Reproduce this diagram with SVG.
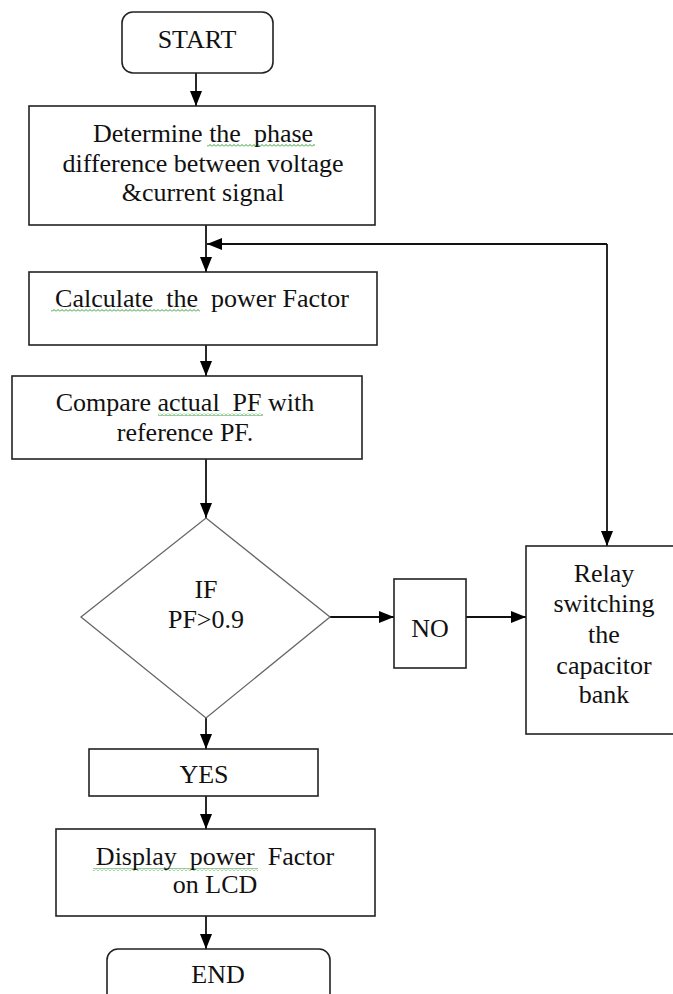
<svg xmlns="http://www.w3.org/2000/svg" width="673" height="994" viewBox="0 0 673 994">
<style>
.box{fill:#fff;stroke:#222;stroke-width:1.6}
.dia{fill:#fff;stroke:#666;stroke-width:1.3}
.t{font-family:"Liberation Serif","Times New Roman",serif;font-size:26px;fill:#111;text-anchor:middle;white-space:pre}
.ln{fill:none;stroke:#111;stroke-width:1.8}
.wv{fill:url(#wavy)}
</style>
<defs>
<marker id="ah" viewBox="0 0 15 12" refX="15" refY="6" markerWidth="15" markerHeight="12" markerUnits="userSpaceOnUse" orient="auto">
<path d="M0,0 L15,6 L0,12 z" fill="#000"/>
</marker>
<pattern id="wavy" width="4" height="3" patternUnits="userSpaceOnUse">
<path d="M0,2.5 L2,0.5 L4,2.5" fill="none" stroke="#2f9e2f" stroke-width="1"/>
</pattern>
</defs>
<rect width="673" height="994" fill="#fff"/>
<g id="connectors">
<line class="ln" x1="196" y1="73" x2="196" y2="106" marker-end="url(#ah)"/>
<line class="ln" x1="206" y1="225" x2="206" y2="272" marker-end="url(#ah)"/>
<polyline class="ln" points="607,244 222,244" />
<line class="ln" x1="222" y1="244" x2="207" y2="244" marker-end="url(#ah)"/>
<line class="ln" x1="607" y1="244" x2="607" y2="546" marker-end="url(#ah)"/>
<line class="ln" x1="206" y1="345" x2="206" y2="376" marker-end="url(#ah)"/>
<line class="ln" x1="206" y1="459" x2="206" y2="518" marker-end="url(#ah)"/>
<line class="ln" x1="330" y1="617" x2="394" y2="617" marker-end="url(#ah)"/>
<line class="ln" x1="466" y1="617" x2="526" y2="617" marker-end="url(#ah)"/>
<line class="ln" x1="206" y1="718" x2="206" y2="749" marker-end="url(#ah)"/>
<line class="ln" x1="206" y1="796" x2="206" y2="829" marker-end="url(#ah)"/>
<line class="ln" x1="206" y1="916" x2="206" y2="949" marker-end="url(#ah)"/>
</g>
<g id="start">
<rect class="box" x="122" y="12" width="151" height="61" rx="11"/>
<text class="t" x="197" y="48" font-size="25">START</text>
</g>
<g id="determine">
<rect class="box" x="29" y="106" width="346" height="119"/>
<rect class="wv" x="207" y="144" width="108" height="3"/>
<text class="t" x="203" y="142">Determine the  phase</text>
<text class="t" x="203" y="172">difference between voltage</text>
<text class="t" x="203" y="201">&amp;current signal</text>
</g>
<g id="calculate">
<rect class="box" x="29" y="272" width="348" height="73"/>
<rect class="wv" x="51" y="309" width="149" height="3"/>
<text class="t" x="202" y="307">Calculate  the  power Factor</text>
</g>
<g id="compare">
<rect class="box" x="12" y="376" width="350" height="83"/>
<rect class="wv" x="158" y="413" width="105" height="3"/>
<text class="t" x="185" y="411">Compare actual  PF with</text>
<text class="t" x="185" y="441">reference PF.</text>
</g>
<g id="decision">
<polygon class="dia" points="206,518 330,617 206,718 81,617"/>
<text class="t" x="206" y="598">IF</text>
<text class="t" x="206" y="628">PF&gt;0.9</text>
</g>
<g id="no">
<rect class="box" x="394" y="579" width="72" height="89"/>
<text class="t" x="430" y="637" font-size="21">NO</text>
</g>
<g id="relay">
<rect class="box" x="526" y="546" width="160" height="188"/>
<text class="t" x="604" y="582">Relay</text>
<text class="t" x="604" y="612">switching</text>
<text class="t" x="604" y="643">the</text>
<text class="t" x="604" y="674">capacitor</text>
<text class="t" x="604" y="703">bank</text>
</g>
<g id="yes">
<rect class="box" x="89" y="749" width="229" height="47"/>
<text class="t" x="204" y="783" font-size="24">YES</text>
</g>
<g id="display">
<rect class="box" x="56" y="829" width="319" height="87"/>
<rect class="wv" x="93" y="868" width="165" height="3"/>
<text class="t" x="215" y="865">Display  power  Factor</text>
<text class="t" x="215" y="893">on LCD</text>
</g>
<g id="end">
<rect class="box" x="107" y="949" width="223" height="70" rx="11"/>
<text class="t" x="218" y="983" font-size="24">END</text>
</g>
</svg>
